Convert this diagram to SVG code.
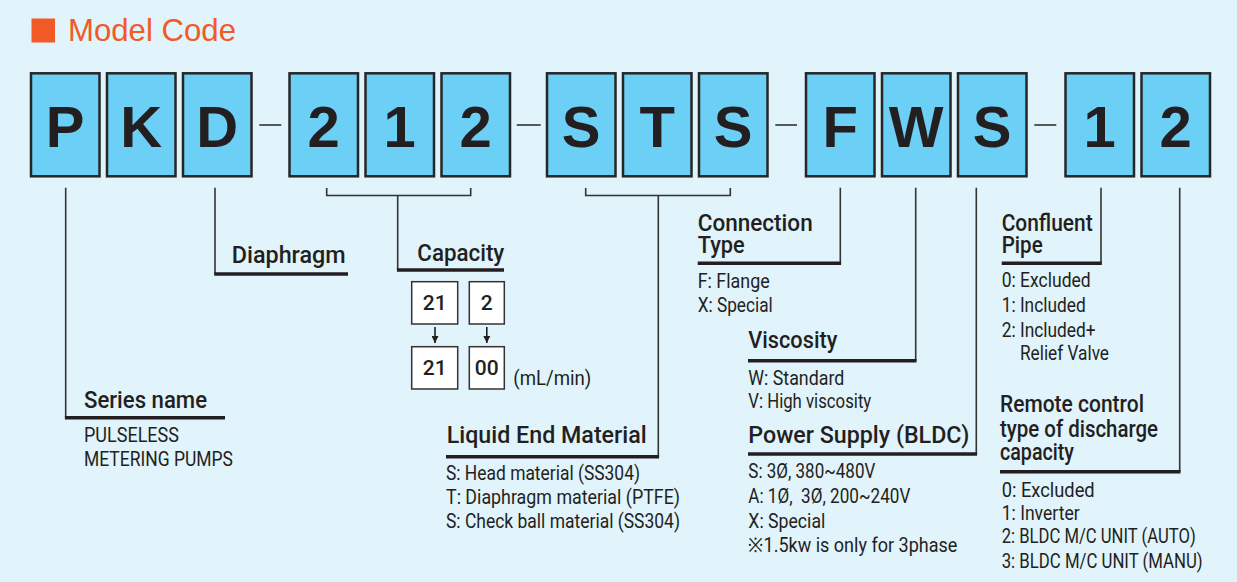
<svg xmlns="http://www.w3.org/2000/svg" width="1237" height="582" viewBox="0 0 1237 582">
<style>
.bg{fill:#E1F3FB}
.box rect{fill:#6CCFF5;stroke:#262626;stroke-width:2.5}
.box text{font-family:"Liberation Sans",Arial,sans-serif;font-weight:bold;font-size:58px;fill:#231F20;text-anchor:middle}
.thin{stroke:#333;stroke-width:1.6;fill:none}
.thick{stroke:#231F20;stroke-width:3.5;fill:none}
.h{font-family:Roboto,"Liberation Sans",sans-serif;font-weight:500;font-size:23px;fill:#231F20}
.d{font-family:Roboto,"Liberation Sans",sans-serif;font-weight:400;font-size:20px;fill:#231F20}
.cb rect{fill:#fff;stroke:#333;stroke-width:1.5}
.cb text{font-family:Roboto,"Liberation Sans",sans-serif;font-weight:500;font-size:21px;fill:#231F20;text-anchor:middle}
</style>
<defs>
<marker id="ah" viewBox="0 0 10 10" refX="10" refY="5" markerWidth="7" markerHeight="7" orient="auto" markerUnits="userSpaceOnUse">
<path d="M0,0 L10,5 L0,10 Z" fill="#231F20"/>
</marker>
</defs>
<rect class="bg" x="0" y="0" width="1237" height="582"/>

<g id="title">
<rect x="31.5" y="18.5" width="23.5" height="24" fill="#F15A24"/>
<text x="68" y="41" font-family="Liberation Sans,Arial,sans-serif" font-size="32" fill="#F15A24" textLength="168" lengthAdjust="spacingAndGlyphs">Model Code</text>
</g>

<g id="code-boxes">
<g id="box-P" class="box"><rect x="31" y="73.3" width="68.5" height="103"/><text x="65.2" y="147.3">P</text></g>
<g id="box-K" class="box"><rect x="107" y="73.3" width="68.5" height="103"/><text x="141.2" y="147.3">K</text></g>
<g id="box-D" class="box"><rect x="183" y="73.3" width="68.5" height="103"/><text x="217.2" y="147.3">D</text></g>
<g id="box-2a" class="box"><rect x="289.5" y="73.3" width="68.5" height="103"/><text x="323.7" y="147.3">2</text></g>
<g id="box-1a" class="box"><rect x="365.5" y="73.3" width="68.5" height="103"/><text x="399.7" y="147.3">1</text></g>
<g id="box-2b" class="box"><rect x="441.5" y="73.3" width="68.5" height="103"/><text x="475.7" y="147.3">2</text></g>
<g id="box-S1" class="box"><rect x="547" y="73.3" width="68.5" height="103"/><text x="581.2" y="147.3">S</text></g>
<g id="box-T" class="box"><rect x="623" y="73.3" width="68.5" height="103"/><text x="657.2" y="147.3">T</text></g>
<g id="box-S2" class="box"><rect x="699" y="73.3" width="68.5" height="103"/><text x="733.2" y="147.3">S</text></g>
<g id="box-F" class="box"><rect x="806" y="73.3" width="68.5" height="103"/><text x="840.2" y="147.3">F</text></g>
<g id="box-W" class="box"><rect x="882" y="73.3" width="68.5" height="103"/><text x="916.2" y="147.3">W</text></g>
<g id="box-S3" class="box"><rect x="958" y="73.3" width="68.5" height="103"/><text x="992.2" y="147.3">S</text></g>
<g id="box-1b" class="box"><rect x="1065.5" y="73.3" width="68.5" height="103"/><text x="1099.7" y="147.3">1</text></g>
<g id="box-2c" class="box"><rect x="1141.5" y="73.3" width="68.5" height="103"/><text x="1175.7" y="147.3">2</text></g>
</g>

<g id="dashes" class="thin">
<line x1="259.3" y1="125" x2="281.3" y2="125"/>
<line x1="516.7" y1="125" x2="540.7" y2="125"/>
<line x1="775.3" y1="125" x2="797" y2="125"/>
<line x1="1034.3" y1="125" x2="1056.3" y2="125"/>
</g>

<g id="connectors">
<g class="thin">
<line x1="65.7" y1="187.7" x2="65.7" y2="417.7"/>
<line x1="215" y1="187.7" x2="215" y2="274"/>
<path d="M326.7,188 V195.5 H470.7 V188"/>
<line x1="397.7" y1="195.5" x2="397.7" y2="270"/>
<path d="M585.7,188 V195.5 H730.3 V188"/>
<line x1="658.3" y1="195.5" x2="658.3" y2="456.7"/>
<line x1="840.3" y1="187.7" x2="840.3" y2="263.3"/>
<line x1="915.7" y1="187.7" x2="915.7" y2="360.7"/>
<line x1="976.3" y1="187.7" x2="976.3" y2="454"/>
<line x1="1101" y1="187.7" x2="1101" y2="263.3"/>
<line x1="1179.7" y1="187.7" x2="1179.7" y2="471.7"/>
</g>
<g class="thick">
<line x1="64.9" y1="417.7" x2="225" y2="417.7"/>
<line x1="214.2" y1="274" x2="348" y2="274"/>
<line x1="396.9" y1="270" x2="504" y2="270"/>
<line x1="446" y1="456.7" x2="659.1" y2="456.7"/>
<line x1="697.7" y1="263.3" x2="841.1" y2="263.3"/>
<line x1="748" y1="360.7" x2="916.5" y2="360.7"/>
<line x1="748" y1="454" x2="977.1" y2="454"/>
<line x1="1001.7" y1="263.3" x2="1101.8" y2="263.3"/>
<line x1="1000" y1="471.7" x2="1180.5" y2="471.7"/>
</g>
<g stroke="#231F20" stroke-width="1.6">
<line x1="435" y1="327" x2="435" y2="343" marker-end="url(#ah)"/>
<line x1="486.8" y1="327" x2="486.8" y2="343" marker-end="url(#ah)"/>
</g>
</g>

<g id="series-name">
<text class="h" x="84" y="407.7" textLength="123" lengthAdjust="spacingAndGlyphs">Series name</text>
<text class="d" x="84" y="441.7" textLength="95" lengthAdjust="spacingAndGlyphs">PULSELESS</text>
<text class="d" x="84" y="465.7" textLength="149" lengthAdjust="spacingAndGlyphs">METERING PUMPS</text>
</g>

<g id="diaphragm">
<text class="h" x="231.7" y="263.3" textLength="114" lengthAdjust="spacingAndGlyphs">Diaphragm</text>
</g>

<g id="capacity">
<text class="h" x="417.3" y="260.7" textLength="87" lengthAdjust="spacingAndGlyphs">Capacity</text>
<g class="cb">
<rect x="411.7" y="281.7" width="46" height="42.3"/><text x="434.7" y="310">21</text>
<rect x="469.3" y="281.7" width="35" height="42.3"/><text x="486.8" y="310">2</text>
<rect x="411.7" y="346.7" width="46" height="42.3"/><text x="434.7" y="374.5">21</text>
<rect x="469.3" y="346.7" width="35" height="42.3"/><text x="486.8" y="374.5" font-weight="400">00</text>
</g>
<text class="d" x="513.3" y="385" textLength="78" lengthAdjust="spacingAndGlyphs">(mL/min)</text>
</g>

<g id="liquid-end-material">
<text class="h" x="446.7" y="443.3" textLength="200" lengthAdjust="spacingAndGlyphs">Liquid End Material</text>
<text class="d" x="446" y="480" textLength="194" lengthAdjust="spacingAndGlyphs">S: Head material (SS304)</text>
<text class="d" x="446" y="504" textLength="234" lengthAdjust="spacingAndGlyphs">T: Diaphragm material (PTFE)</text>
<text class="d" x="446" y="527.7" textLength="234" lengthAdjust="spacingAndGlyphs">S: Check ball material (SS304)</text>
</g>

<g id="connection-type">
<text class="h" x="697.7" y="230.7" textLength="115" lengthAdjust="spacingAndGlyphs">Connection</text>
<text class="h" x="697.7" y="253.3" textLength="47" lengthAdjust="spacingAndGlyphs">Type</text>
<text class="d" x="697.7" y="288.3" textLength="72" lengthAdjust="spacingAndGlyphs">F: Flange</text>
<text class="d" x="697.7" y="311.7" textLength="75" lengthAdjust="spacingAndGlyphs">X: Special</text>
</g>

<g id="viscosity">
<text class="h" x="748.3" y="348.3" textLength="89" lengthAdjust="spacingAndGlyphs">Viscosity</text>
<text class="d" x="748.3" y="385" textLength="96" lengthAdjust="spacingAndGlyphs">W: Standard</text>
<text class="d" x="748.3" y="408.3" textLength="123" lengthAdjust="spacingAndGlyphs">V: High viscosity</text>
</g>

<g id="power-supply">
<text class="h" x="748.3" y="443.3" textLength="221" lengthAdjust="spacingAndGlyphs">Power Supply (BLDC)</text>
<text class="d" x="748.3" y="478.3" textLength="127" lengthAdjust="spacingAndGlyphs">S: 3Ø, 380~480V</text>
<text class="d" x="748.3" y="503.3" textLength="162" lengthAdjust="spacingAndGlyphs" xml:space="preserve">A: 1Ø,  3Ø, 200~240V</text>
<text class="d" x="748.3" y="527.7" textLength="77" lengthAdjust="spacingAndGlyphs">X: Special</text>
<text class="d" x="748.3" y="551.7" textLength="209" lengthAdjust="spacingAndGlyphs">※1.5kw is only for 3phase</text>
</g>

<g id="confluent-pipe">
<text class="h" x="1001.7" y="230.7" textLength="91" lengthAdjust="spacingAndGlyphs">Confluent</text>
<text class="h" x="1001.7" y="253.3" textLength="41" lengthAdjust="spacingAndGlyphs">Pipe</text>
<text class="d" x="1001.7" y="287.3" textLength="89" lengthAdjust="spacingAndGlyphs">0: Excluded</text>
<text class="d" x="1001.7" y="311.7" textLength="84" lengthAdjust="spacingAndGlyphs">1: Included</text>
<text class="d" x="1001.7" y="336.7" textLength="94" lengthAdjust="spacingAndGlyphs">2: Included+</text>
<text class="d" x="1020" y="360" textLength="89" lengthAdjust="spacingAndGlyphs">Relief Valve</text>
</g>

<g id="remote-control">
<text class="h" x="1000" y="411.7" textLength="144" lengthAdjust="spacingAndGlyphs">Remote control</text>
<text class="h" x="1000" y="436.7" textLength="158" lengthAdjust="spacingAndGlyphs">type of discharge</text>
<text class="h" x="1000" y="460" textLength="74" lengthAdjust="spacingAndGlyphs">capacity</text>
<text class="d" x="1001.7" y="496.7" textLength="93" lengthAdjust="spacingAndGlyphs">0: Excluded</text>
<text class="d" x="1001.7" y="520" textLength="78" lengthAdjust="spacingAndGlyphs">1: Inverter</text>
<text class="d" x="1001.7" y="543.3" textLength="194" lengthAdjust="spacingAndGlyphs">2: BLDC M/C UNIT (AUTO)</text>
<text class="d" x="1001.7" y="568.3" textLength="201" lengthAdjust="spacingAndGlyphs">3: BLDC M/C UNIT (MANU)</text>
</g>
</svg>
